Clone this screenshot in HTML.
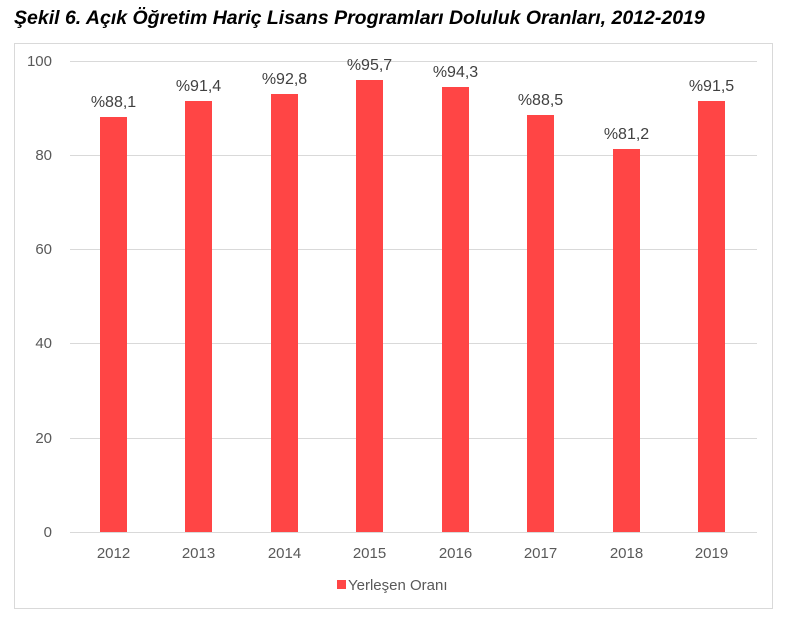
<!DOCTYPE html><html><head><style>body{margin:0;background:#fff}svg{display:block}</style></head><body>
<svg width="796" height="619" xmlns="http://www.w3.org/2000/svg" font-family="Liberation Sans, DejaVu Sans, sans-serif">
<text x="14" y="24" font-size="19.5" font-weight="bold" font-style="italic" fill="#000">Şekil 6. Açık Öğretim Hariç Lisans Programları Doluluk Oranları, 2012-2019</text>
<rect x="14.5" y="43.5" width="758" height="565" fill="none" stroke="#d9d9d9"/>
<g stroke="#d9d9d9" stroke-width="1">
<line x1="70" y1="61.5" x2="757" y2="61.5"/><line x1="70" y1="155.5" x2="757" y2="155.5"/><line x1="70" y1="249.5" x2="757" y2="249.5"/><line x1="70" y1="343.5" x2="757" y2="343.5"/><line x1="70" y1="438.5" x2="757" y2="438.5"/><line x1="70" y1="532.5" x2="757" y2="532.5"/>
</g>
<g font-size="15" fill="#595959" text-anchor="end">
<text x="52" y="66">100</text><text x="52" y="160">80</text><text x="52" y="254">60</text><text x="52" y="348">40</text><text x="52" y="443">20</text><text x="52" y="537">0</text>
</g>
<g fill="#ff4545">
<rect x="100" y="117" width="27" height="415"/>
<rect x="185" y="101" width="27" height="431"/>
<rect x="271" y="94" width="27" height="438"/>
<rect x="356" y="80" width="27" height="452"/>
<rect x="442" y="87" width="27" height="445"/>
<rect x="527" y="115" width="27" height="417"/>
<rect x="613" y="149" width="27" height="383"/>
<rect x="698" y="101" width="27" height="431"/>
</g>
<g font-size="16" fill="#404040" text-anchor="middle">
<text x="113.5" y="107">%88,1</text><text x="198.5" y="91">%91,4</text><text x="284.5" y="84">%92,8</text><text x="369.5" y="70">%95,7</text><text x="455.5" y="77">%94,3</text><text x="540.5" y="105">%88,5</text><text x="626.5" y="139">%81,2</text><text x="711.5" y="91">%91,5</text>
</g>
<g font-size="15" fill="#595959" text-anchor="middle">
<text x="113.5" y="558">2012</text><text x="198.5" y="558">2013</text><text x="284.5" y="558">2014</text><text x="369.5" y="558">2015</text><text x="455.5" y="558">2016</text><text x="540.5" y="558">2017</text><text x="626.5" y="558">2018</text><text x="711.5" y="558">2019</text>
</g>
<rect x="337" y="580" width="9" height="9" fill="#ff4545"/>
<text x="348" y="590" font-size="15" fill="#595959">Yerleşen Oranı</text>
</svg>
</body></html>
